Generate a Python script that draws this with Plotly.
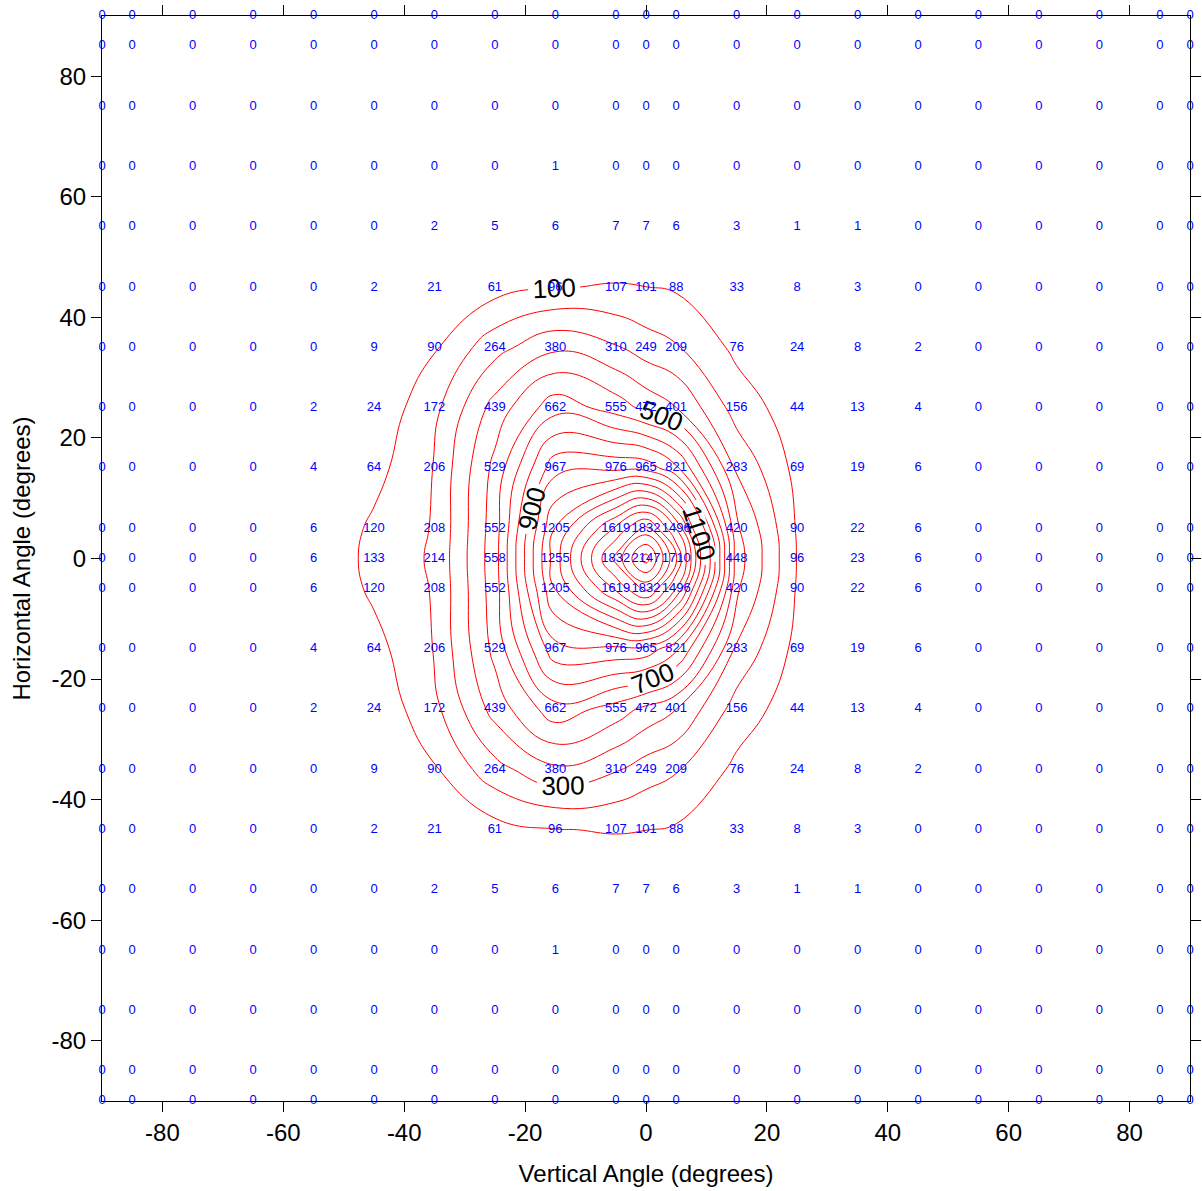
import plotly.graph_objects as go

# Grid angles (degrees)
vertical_angles = [-90, -85, -75, -65, -55, -45, -35, -25, -15, -5, 0, 5, 15, 25, 35, 45, 55, 65, 75, 85, 90]
horizontal_angles = [-90, -85, -75, -65, -55, -45, -35, -25, -15, -5, 0, 5, 15, 25, 35, 45, 55, 65, 75, 85, 90]

# Intensity rows, one per horizontal angle (bottom to top)
row_m90 = [0, 0, 0, 0, 0, 0, 0, 0, 0, 0, 0, 0, 0, 0, 0, 0, 0, 0, 0, 0, 0]
row_m85 = [0, 0, 0, 0, 0, 0, 0, 0, 0, 0, 0, 0, 0, 0, 0, 0, 0, 0, 0, 0, 0]
row_m75 = [0, 0, 0, 0, 0, 0, 0, 0, 0, 0, 0, 0, 0, 0, 0, 0, 0, 0, 0, 0, 0]
row_m65 = [0, 0, 0, 0, 0, 0, 0, 0, 1, 0, 0, 0, 0, 0, 0, 0, 0, 0, 0, 0, 0]
row_m55 = [0, 0, 0, 0, 0, 0, 2, 5, 6, 7, 7, 6, 3, 1, 1, 0, 0, 0, 0, 0, 0]
row_m45 = [0, 0, 0, 0, 0, 2, 21, 61, 96, 107, 101, 88, 33, 8, 3, 0, 0, 0, 0, 0, 0]
row_m35 = [0, 0, 0, 0, 0, 9, 90, 264, 380, 310, 249, 209, 76, 24, 8, 2, 0, 0, 0, 0, 0]
row_m25 = [0, 0, 0, 0, 2, 24, 172, 439, 662, 555, 472, 401, 156, 44, 13, 4, 0, 0, 0, 0, 0]
row_m15 = [0, 0, 0, 0, 4, 64, 206, 529, 967, 976, 965, 821, 283, 69, 19, 6, 0, 0, 0, 0, 0]
row_m5 = [0, 0, 0, 0, 6, 120, 208, 552, 1205, 1619, 1832, 1496, 420, 90, 22, 6, 0, 0, 0, 0, 0]
row_0 = [0, 0, 0, 0, 6, 133, 214, 558, 1255, 1832, 2147, 1710, 448, 96, 23, 6, 0, 0, 0, 0, 0]
row_p5 = [0, 0, 0, 0, 6, 120, 208, 552, 1205, 1619, 1832, 1496, 420, 90, 22, 6, 0, 0, 0, 0, 0]
row_p15 = [0, 0, 0, 0, 4, 64, 206, 529, 967, 976, 965, 821, 283, 69, 19, 6, 0, 0, 0, 0, 0]
row_p25 = [0, 0, 0, 0, 2, 24, 172, 439, 662, 555, 472, 401, 156, 44, 13, 4, 0, 0, 0, 0, 0]
row_p35 = [0, 0, 0, 0, 0, 9, 90, 264, 380, 310, 249, 209, 76, 24, 8, 2, 0, 0, 0, 0, 0]
row_p45 = [0, 0, 0, 0, 0, 2, 21, 61, 96, 107, 101, 88, 33, 8, 3, 0, 0, 0, 0, 0, 0]
row_p55 = [0, 0, 0, 0, 0, 0, 2, 5, 6, 7, 7, 6, 3, 1, 1, 0, 0, 0, 0, 0, 0]
row_p65 = [0, 0, 0, 0, 0, 0, 0, 0, 1, 0, 0, 0, 0, 0, 0, 0, 0, 0, 0, 0, 0]
row_p75 = [0, 0, 0, 0, 0, 0, 0, 0, 0, 0, 0, 0, 0, 0, 0, 0, 0, 0, 0, 0, 0]
row_p85 = [0, 0, 0, 0, 0, 0, 0, 0, 0, 0, 0, 0, 0, 0, 0, 0, 0, 0, 0, 0, 0]
row_p90 = [0, 0, 0, 0, 0, 0, 0, 0, 0, 0, 0, 0, 0, 0, 0, 0, 0, 0, 0, 0, 0]

intensity = [row_m90, row_m85, row_m75, row_m65, row_m55, row_m45, row_m35, row_m25,
             row_m15, row_m5, row_0, row_p5, row_p15, row_p25, row_p35, row_p45,
             row_p55, row_p65, row_p75, row_p85, row_p90]

x_ticks = [-80, -60, -40, -20, 0, 20, 40, 60, 80]
x_tick_labels = ["-80", "-60", "-40", "-20", "0", "20", "40", "60", "80"]
y_ticks = [-80, -60, -40, -20, 0, 20, 40, 60, 80]
y_tick_labels = ["-80", "-60", "-40", "-20", "0", "20", "40", "60", "80"]

FONT = "Liberation Sans, Arial, sans-serif"

fig = go.Figure()

def contour(start, end, size, labels):
    return go.Contour(
        x=vertical_angles, y=horizontal_angles, z=intensity,
        autocontour=False,
        contours=dict(start=start, end=end, size=size, coloring="none",
                      showlabels=labels,
                      labelfont=dict(size=26, color="black", family=FONT)),
        line=dict(color="red", width=1, smoothing=1.3),
        showscale=False, hoverinfo="skip",
    )

fig.add_trace(contour(1200, 2100, 100, False))
fig.add_trace(contour(200, 1000, 200, False))
fig.add_trace(contour(100, 1100, 200, True))

xs, ys, ts = [], [], []
for yi, row in zip(horizontal_angles, intensity):
    for xi, v in zip(vertical_angles, row):
        xs.append(xi)
        ys.append(yi)
        ts.append(str(v))

fig.add_trace(go.Scatter(
    x=xs, y=ys, text=ts, mode="text",
    textposition="middle center",
    textfont=dict(color="#0000ff", size=13, family=FONT),
    cliponaxis=False, showlegend=False, hoverinfo="skip",
))

axis_common = dict(
    range=[-90, 90], showgrid=False, zeroline=False, automargin=False,
    showline=True, linecolor="black", linewidth=1, mirror="ticks",
    ticks="outside", ticklen=10, tickwidth=1, tickcolor="black",
    tickfont=dict(size=24, color="black", family=FONT),
)

fig.update_layout(
    width=1202, height=1191,
    margin=dict(l=102, r=12, t=16, b=90),
    paper_bgcolor="white", plot_bgcolor="white",
    showlegend=False,
    xaxis=dict(axis_common, tickvals=x_ticks, ticktext=x_tick_labels,
               title=dict(text="Vertical Angle (degrees)", font=dict(size=24, color="black", family=FONT), standoff=20)),
    yaxis=dict(axis_common, tickvals=y_ticks, ticktext=y_tick_labels,
               title=dict(text="Horizontal Angle (degrees)", font=dict(size=24, color="black", family=FONT), standoff=14)),
)

fig.write_html("out.html")
